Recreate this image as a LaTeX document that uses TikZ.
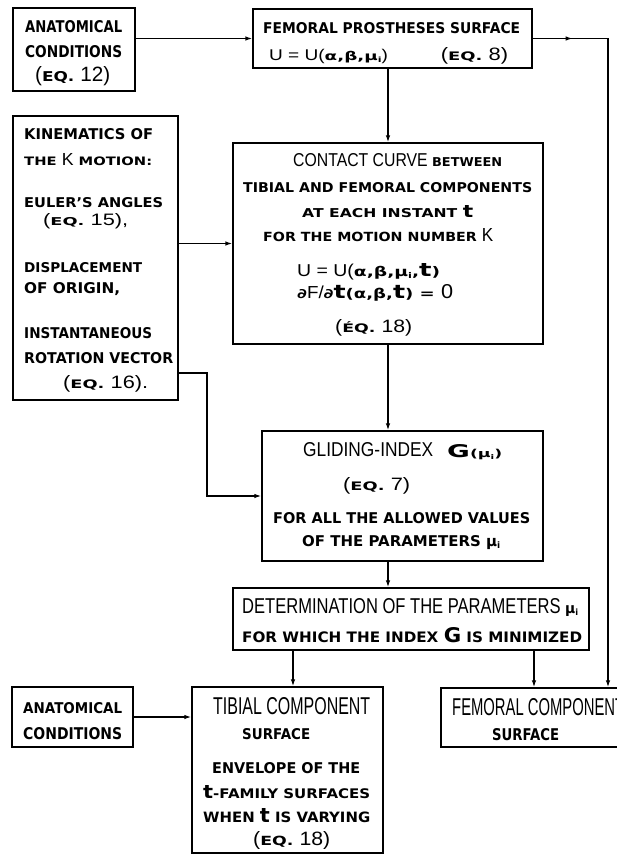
\documentclass[tikz,border=0pt]{standalone}
\usepackage{fontspec}
\usepackage{graphicx}
\usetikzlibrary{arrows.meta,decorations.markings,calc}
\newfontfamily\BF[FakeStretch=0.9]{DejaVu Sans Bold}
\newfontfamily\TF[FakeStretch=0.72]{Liberation Sans}
\newcommand\fit[3]{\resizebox{#1bp}{#2bp}{#3}}
\newcommand\T[1]{{\TF\fontsize{15}{15}\selectfont #1}}
\newcommand\Tu[1]{{\TF\fontsize{13}{13}\selectfont #1}}
\newcommand\B[1]{{\BF\fontsize{10}{10}\selectfont #1}}
\newcommand\Bs[1]{{\BF\fontsize{9.8}{10}\selectfont #1}}
\newcommand\Bt{{\BF\fontsize{14}{14}\selectfont t}}
\newcommand\mui{{\BF\fontsize{10}{10}\selectfont μ\raisebox{-0.35ex}{\fontsize{6}{6}\selectfont i}}}
\begin{document}
\begin{tikzpicture}[x=1bp,y=-1bp,
  box/.style={draw, line width=1.3bp, inner sep=0pt},
  tl/.style={anchor=base west, inner sep=0pt},
  ln/.style={line width=1.3bp},
  arr/.style={ln, -{Latex[length=7bp,width=4.5bp]}}]
\path[use as bounding box] (0,0) rectangle (617,855);
\clip (0,0) rectangle (617,855);
\fill[white] (0,0) rectangle (617,855);

% boxes
\node[box, minimum width=122bp, minimum height=83bp] (anat1) at (74,49.5) {};
\node[box, minimum width=279bp, minimum height=59bp] (fem1) at (392.5,38.5) {};
\node[box, minimum width=165bp, minimum height=284bp] (kin) at (95.5,258) {};
\node[box, minimum width=310bp, minimum height=201bp] (contact) at (388,243.5) {};
\node[box, minimum width=281bp, minimum height=130bp] (glid) at (402.5,496) {};
\node[box, minimum width=356bp, minimum height=62bp] (det) at (411,619) {};
\node[box, minimum width=121bp, minimum height=60bp] (anat2) at (72.5,717) {};
\node[box, minimum width=191bp, minimum height=166bp] (tib) at (287.5,770) {};
\node[box, minimum width=189bp, minimum height=59bp] (femc) at (535.5,717.5) {};

% texts
\node[tl] (a1a) at (25,32) {\fit{97}{12}{\B{ANATOMICAL}}};
\node[tl] (a1b) at (25,57) {\fit{97}{12}{\B{CONDITIONS}}};
\node[tl] (a1c) at (35,81) {\fit{75}{15}{\T{(}\Bs{EQ. }\T{12)}}};

\node[tl] (f1a) at (263,33) {\fit{257}{11}{\B{FEMORAL PROSTHESES SURFACE}}};
\node[tl] (f1b) at (269,60) {\fit{239}{13}{\Tu{U = U(}\B{α,β,}\mui\Tu{)}\hspace{2.6em}\T{(}\Bs{EQ. }\T{8)}}};

\node[tl] (c1) at (293,166) {\fit{209}{13}{\T{CONTACT CURVE }\Bs{BETWEEN}}};
\node[tl] (c2) at (243,192) {\fit{289}{10}{\B{TIBIAL AND FEMORAL COMPONENTS}}};
\node[tl] (c3) at (302,217) {\fit{171}{12}{\B{AT EACH INSTANT }\Bt}};
\node[tl] (c4) at (263,241) {\fit{230}{13}{\B{FOR THE MOTION NUMBER }\T{K}}};
\node[tl] (c5) at (297,276) {\fit{143}{13}{\Tu{U = U(}\B{α,β,}\mui\B{,}\Bt\B{)}}};
\node[tl] (c6) at (297,298) {\fit{156}{14}{\B{∂}\Tu{F/}\B{∂}\Bt\B{(α,β,}\Bt\B{) = }\T{0}}};
\node[tl] (c7) at (335,332) {\fit{77}{13}{\T{(}\Bs{\smash{É}Q. }\T{18)}}};

\node[tl] (k1) at (24,139) {\fit{129}{11}{\B{KINEMATICS OF}}};
\node[tl] (k2) at (24,165) {\fit{128}{12}{\B{THE }\T{K}\B{ MOTION:}}};
\node[tl] (k3) at (24,207) {\fit{139}{10}{\B{EULER’S ANGLES}}};
\node[tl] (k4) at (43,225) {\fit{85}{12}{\T{(}\Bs{EQ. }\T{15),}}};
\node[tl] (k5) at (24,272) {\fit{118}{10}{\B{DISPLACEMENT}}};
\node[tl] (k6) at (24,293) {\fit{96}{11}{\B{OF ORIGIN,}}};
\node[tl] (k7) at (24,338) {\fit{128}{11}{\B{INSTANTANEOUS}}};
\node[tl] (k8) at (24,363) {\fit{149}{11}{\B{ROTATION VECTOR}}};
\node[tl] (k9) at (63,388) {\fit{85}{13}{\T{(}\Bs{EQ. }\T{16).}}};

\node[tl] (g1) at (303,456) {\fit{130}{14}{\T{GLIDING-INDEX}}};
\node[tl] (g2) at (447,457) {\fit{55}{13}{{\BF\fontsize{16}{16}\selectfont G}\B{(}\mui\B{)}}};
\node[tl] (g3) at (343,490) {\fit{67}{13}{\T{(}\Bs{EQ. }\T{7)}}};
\node[tl] (g4) at (273,523) {\fit{257}{11}{\B{FOR ALL THE ALLOWED VALUES}}};
\node[tl] (g5) at (302,546) {\fit{198}{11}{\B{OF THE PARAMETERS }\mui}};

\node[tl] (d1) at (242,613) {\fit{336}{15}{\T{DETERMINATION OF THE PARAMETERS }\mui}};
\node[tl] (d2) at (242,642) {\fit{340}{15}{\B{FOR WHICH THE INDEX }{\BF\fontsize{14}{14}\selectfont G}\B{ IS MINIMIZED}}};

\node[tl] (a2a) at (23,713) {\fit{99}{11}{\B{ANATOMICAL}}};
\node[tl] (a2b) at (23,739) {\fit{99}{12}{\B{CONDITIONS}}};

\node[tl] (t1) at (213,714) {\fit{157}{17}{\T{TIBIAL COMPONENT}}};
\node[tl] (t2) at (242,739) {\fit{68}{11}{\B{SURFACE}}};
\node[tl] (t3) at (212,773) {\fit{148}{11}{\B{ENVELOPE OF THE}}};
\node[tl] (t4) at (203,798) {\fit{167}{13}{\Bt\B{-FAMILY SURFACES}}};
\node[tl] (t5) at (203,822) {\fit{167}{14}{\B{WHEN }\Bt\B{ IS VARYING}}};
\node[tl] (t6) at (253,845) {\fit{77}{14}{\T{(}\Bs{EQ. }\T{18)}}};

\node[tl] (fc1) at (452,715) {\fit{172}{17}{\T{FEMORAL COMPONENT}}};
\node[tl] (fc2) at (492,740) {\fit{67}{12}{\B{SURFACE}}};

% connectors
\coordinate (rbend) at (608,38.5);
\coordinate (kbend) at (207,373);
\coordinate (dL) at (293,0);
\coordinate (dR) at (534,0);

\draw[arr] (anat1.east |- fem1.west) -- (fem1.west);
\draw[arr, postaction=decorate, decoration={markings, mark=at position 40bp with {\arrow{Latex[length=7bp,width=4.5bp]}}}]
  (fem1.east) -- (fem1.east -| rbend) -- (rbend |- femc.north);
\draw[arr] (fem1.south -| contact.north) -- (contact.north);
\draw[arr] (kin.east |- contact.west) -- (contact.west);
\draw[arr] (kin.east |- kbend) -- (kbend) |- (glid.west);
\draw[arr] (contact.south) -- (contact.south |- glid.north);
\draw[arr] (glid.south -| contact.south) -- (det.north -| contact.south);
\draw[arr] (det.south -| dL) -- (dL |- tib.north);
\draw[arr] (det.south -| dR) -- (dR |- femc.north);
\draw[arr] (anat2.east) -- (anat2.east -| tib.west);
\end{tikzpicture}
\end{document}
